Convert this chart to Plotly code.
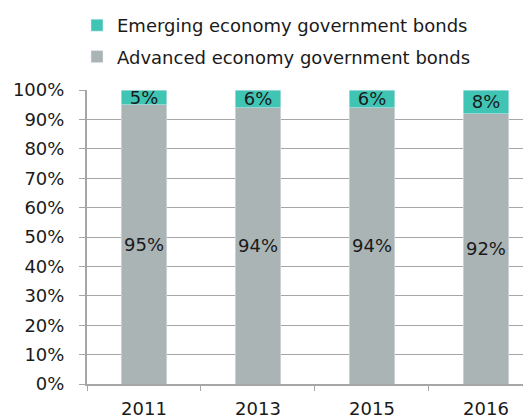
import plotly.graph_objects as go

years = ["2011", "2013", "2015", "2016"]
advanced = [95, 94, 94, 92]
emerging = [5, 6, 6, 8]
y_ticks = [0, 10, 20, 30, 40, 50, 60, 70, 80, 90, 100]

FONT = "DejaVu Sans"
FS = 18
PLOT_W = 444
PLOT_H = 294

fig = go.Figure()
fig.add_trace(go.Bar(
    x=years, y=advanced, name="Advanced economy government bonds",
    marker_color="#AAB4B5", width=0.4,
    text=[f"{v}%" for v in advanced], textposition="inside",
    insidetextanchor="middle", constraintext="none", textangle=0,
    textfont=dict(family=FONT, size=FS, color="#1a1a1a"),
    legendgroup="a", legendrank=2,
))
fig.add_trace(go.Bar(
    x=years, y=emerging, name="Emerging economy government bonds",
    marker_color="#40C5B5", width=0.4,
    text=[f"{v}%" for v in emerging], textposition="inside",
    insidetextanchor="middle", constraintext="none", textangle=0,
    textfont=dict(family=FONT, size=FS, color="#1a1a1a"),
    legendgroup="e", legendrank=1,
))

fig.update_layout(
    width=531, height=419,
    barmode="stack",
    margin=dict(l=79, r=8, t=82, b=43, autoexpand=False),
    paper_bgcolor="white", plot_bgcolor="white",
    font=dict(family=FONT, size=FS, color="#1a1a1a"),
    showlegend=True,
    legend=dict(
        orientation="v", traceorder="grouped", tracegroupgap=5,
        x=(77 - 87) / PLOT_W, xanchor="left",
        y=1 + 83 / PLOT_H, yanchor="top",
        font=dict(family=FONT, size=FS, color="#1a1a1a"),
        itemwidth=30, bgcolor="rgba(0,0,0,0)",
    ),
    xaxis=dict(
        type="category", range=[-0.5, 3.395],
        tickson="boundaries", ticks="outside", ticklen=5,
        tickcolor="#a6a6a6", showline=True, linecolor="#a6a6a6",
        linewidth=2, showgrid=False, tickangle=0, ticklabelstandoff=7,
        tickfont=dict(family=FONT, size=FS, color="#1a1a1a"),
    ),
    yaxis=dict(
        range=[0, 100], tickmode="array", tickvals=y_ticks,
        ticktext=[f"{v}%" for v in y_ticks],
        ticks="outside", ticklen=6, tickcolor="#a6a6a6",
        showline=True, linecolor="#a6a6a6", linewidth=2,
        showgrid=True, gridcolor="#a6a6a6", gridwidth=1,
        ticklabelstandoff=11,
        tickfont=dict(family=FONT, size=FS, color="#1a1a1a"),
        zeroline=False,
    ),
    bargap=0.6,
)
fig.add_annotation(
    text="(% of total)", xref="paper", yref="paper",
    x=(68 - 87) / PLOT_W, xanchor="right",
    y=1 + 86 / PLOT_H, yanchor="bottom", showarrow=False,
    font=dict(family=FONT, size=FS, color="#999999"),
)
fig.write_html("out.html")
